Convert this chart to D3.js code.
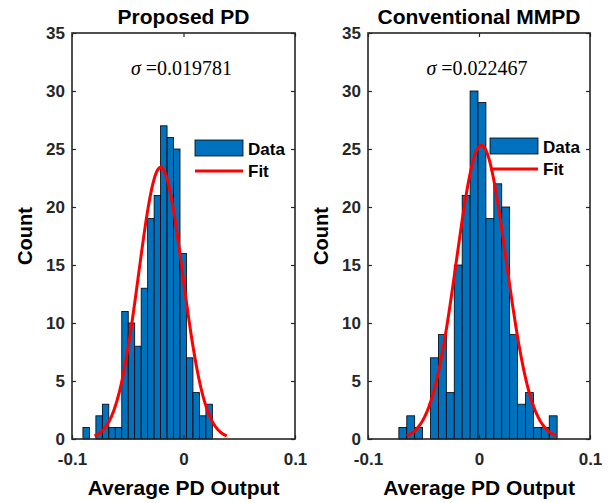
<!DOCTYPE html>
<html>
<head>
<meta charset="utf-8">
<script src="https://cdn.jsdelivr.net/npm/d3@7"></script>
<style>
  body { margin: 0; background: #fff; }
  svg { display: block; }
  .tick text { font-family: "Liberation Sans", Arial, sans-serif; font-weight: bold; font-size: 17px; fill: #262626; }
</style>
</head>
<body>
<div id="chart"></div>
<script>
// histogram counts (20 bins each)
var proposedCounts = [1, 0, 2, 3, 1, 1, 11, 10, 8, 13, 19, 21, 27, 26, 25, 16, 7, 4, 2, 3];
var proposedBinStart = -0.0902;
var proposedBinWidth = 0.005805;
var proposedMu = -0.0205;
var proposedSigma = 0.019781;

var conventionalCounts = [1, 2, 1, 0, 7, 9, 4, 15, 21, 30, 29, 19, 22, 20, 9, 3, 4, 1, 1, 2];
var conventionalBinStart = -0.0722;
var conventionalBinWidth = 0.00713;
var conventionalMu = 0.0021;
var conventionalSigma = 0.022467;

var titles = ["Proposed PD", "Conventional MMPD"];
var sigmaLabels = ["0.019781", "0.022467"];
var xTicks = [-0.1, 0, 0.1];
var yTicks = [0, 5, 10, 15, 20, 25, 30, 35];

var W = 612, H = 503;
var svg = d3.select("#chart").append("svg")
  .attr("width", W)
  .attr("height", H);

var axColor = "#262626";
var tickLen = 4;

// build one panel
function drawPanel(left, right, counts, binStart, binWidth, mu, sigma, title, sigmaText, legendTop) {
  var x = d3.scaleLinear().domain([-0.1, 0.1]).range([left, right]);
  var y = d3.scaleLinear().domain([0, 35]).range([439, 33]);
  var g = svg.append("g");

  // bars
  var bins = counts.map(function(c, i) {
    return {x0: binStart + i * binWidth, x1: binStart + (i + 1) * binWidth, n: c};
  });
  g.selectAll("rect.bar")
    .data(bins.filter(function(d) { return d.n > 0; }))
    .join("rect")
      .attr("class", "bar")
      .attr("x", function(d) { return x(d.x0); })
      .attr("y", function(d) { return y(d.n); })
      .attr("width", function(d) { return x(d.x1) - x(d.x0); })
      .attr("height", function(d) { return y(0) - y(d.n); })
      .attr("fill", "#0072BD")
      .attr("stroke", "#000")
      .attr("stroke-width", 0.8);

  // normal fit (histfit style: pdf scaled by N * bin width)
  var total = d3.sum(counts);
  var xs = d3.range(0, 101).map(function(i) { return mu - 3 * sigma + i * 6 * sigma / 100; });
  var fit = xs.map(function(v) {
    var z = (v - mu) / sigma;
    return [v, total * binWidth * Math.exp(-0.5 * z * z) / (sigma * Math.sqrt(2 * Math.PI))];
  });
  g.append("path")
    .datum(fit)
    .attr("fill", "none")
    .attr("stroke", "#FF0000")
    .attr("stroke-width", 3)
    .attr("d", d3.line().x(function(d) { return x(d[0]); }).y(function(d) { return y(d[1]); }));

  // axes with inward ticks on all four sides
  var bottom = g.append("g")
    .attr("transform", "translate(0,439)")
    .call(d3.axisBottom(x).tickValues(xTicks).tickSize(-tickLen).tickPadding(14)
      .tickFormat(function(d) { return d === 0 ? "0" : (d < 0 ? "-" : "") + Math.abs(d).toFixed(1); }));
  var top = g.append("g")
    .attr("transform", "translate(0,33)")
    .call(d3.axisTop(x).tickValues(xTicks).tickSize(-tickLen).tickFormat(""));
  var leftAx = g.append("g")
    .attr("transform", "translate(" + left + ",0)")
    .call(d3.axisLeft(y).tickValues(yTicks).tickSize(-tickLen).tickPadding(7));
  var rightAx = g.append("g")
    .attr("transform", "translate(" + right + ",0)")
    .call(d3.axisRight(y).tickValues(yTicks).tickSize(-tickLen).tickFormat(""));
  [bottom, top, leftAx, rightAx].forEach(function(a) {
    a.select(".domain").remove();
    a.selectAll(".tick line").attr("stroke", axColor).attr("stroke-width", 1.2);
  });
  bottom.selectAll(".tick text").attr("dy", "0.71em");
  g.append("rect")
    .attr("x", left).attr("y", 33)
    .attr("width", right - left).attr("height", 439 - 33)
    .attr("fill", "none")
    .attr("stroke", axColor)
    .attr("stroke-width", 1.6);

  // title
  g.append("text")
    .attr("x", (left + right) / 2).attr("y", 24)
    .attr("text-anchor", "middle")
    .style("font-family", "Liberation Sans, Arial, sans-serif")
    .style("font-weight", "bold").style("font-size", "21px")
    .text(title);

  // sigma annotation
  var s = g.append("text")
    .attr("x", (left + right) / 2 - 2).attr("y", 75)
    .attr("text-anchor", "middle")
    .style("font-family", "Liberation Serif, DejaVu Serif, serif")
    .style("font-size", "20px");
  s.append("tspan").style("font-style", "italic").text("\u03c3");
  s.append("tspan").text(" =" + sigmaText);

  // x label
  g.append("text")
    .attr("x", (left + right) / 2).attr("y", 495)
    .attr("text-anchor", "middle")
    .style("font-family", "Liberation Sans, Arial, sans-serif")
    .style("font-weight", "bold").style("font-size", "21px")
    .text("Average PD Output");

  // y label
  g.append("text")
    .attr("transform", "translate(" + (left - 40) + "," + ((33 + 439) / 2) + ") rotate(-90)")
    .attr("text-anchor", "middle")
    .style("font-family", "Liberation Sans, Arial, sans-serif")
    .style("font-weight", "bold").style("font-size", "20px")
    .text("Count");

  // legend
  var lx = right - 100;
  var leg = g.append("g");
  leg.append("rect")
    .attr("x", lx).attr("y", legendTop)
    .attr("width", 48).attr("height", 16)
    .attr("fill", "#0072BD").attr("stroke", "#000").attr("stroke-width", 0.8);
  leg.append("line")
    .attr("x1", lx).attr("x2", lx + 48)
    .attr("y1", legendTop + 31).attr("y2", legendTop + 31)
    .attr("stroke", "#FF0000").attr("stroke-width", 3);
  leg.selectAll("text.lg")
    .data(["Data", "Fit"])
    .join("text")
      .attr("class", "lg")
      .attr("x", lx + 53)
      .attr("y", function(d, i) { return legendTop + 15 + i * 22; })
      .style("font-family", "Liberation Sans, Arial, sans-serif")
      .style("font-weight", "bold").style("font-size", "17px")
      .text(function(d) { return d; });
}

drawPanel(72, 295, proposedCounts, proposedBinStart, proposedBinWidth, proposedMu, proposedSigma,
  titles[0], sigmaLabels[0], 140);
drawPanel(368, 590, conventionalCounts, conventionalBinStart, conventionalBinWidth, conventionalMu, conventionalSigma,
  titles[1], sigmaLabels[1], 138);
</script>
</body>
</html>
